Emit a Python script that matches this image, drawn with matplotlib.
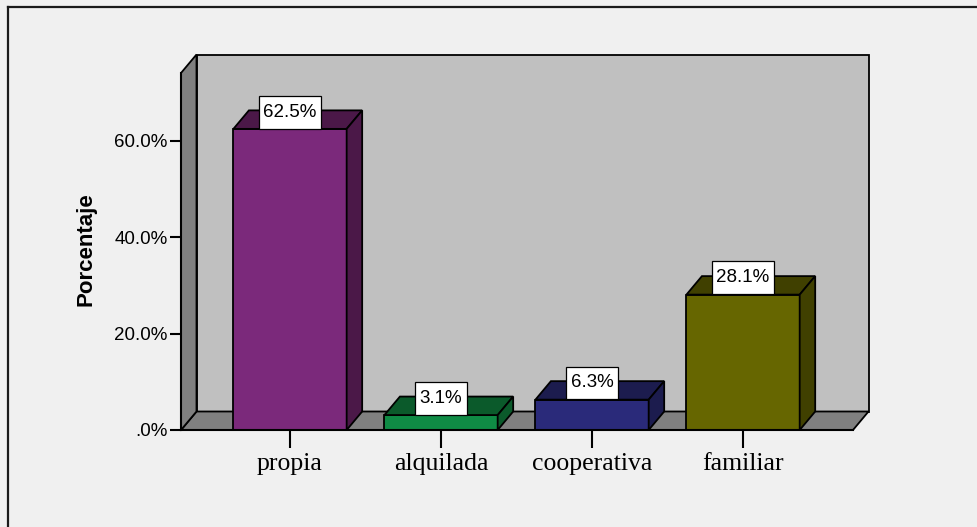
import matplotlib
matplotlib.use('Agg')
import numpy as np
from matplotlib import pyplot as plt
from matplotlib.patches import Polygon
from matplotlib.lines import Line2D
from matplotlib.ticker import FuncFormatter

categorias = ['propia', 'alquilada', 'cooperativa', 'familiar']
porcentajes = [62.5, 3.1, 6.3, 28.1]
etiquetas = ['62.5%', '3.1%', '6.3%', '28.1%']
ticks_y = [0, 20, 40, 60]

color_frente = ['#7b297b', '#0f8b45', '#2a2a7a', '#666600']
color_oscuro = ['#4b1848', '#0b5a2b', '#1c1c4e', '#404000']

W, H = 977, 527


def main():
    fig = plt.figure(figsize=(W / 100, H / 100), dpi=100, facecolor='#f0f0f0')
    ax = fig.add_axes([181 / W, (H - 430) / H, (853 - 181) / W, (430 - 73) / H])
    ax.set_facecolor('none')
    ax.set_xlim(-0.722, 3.728)
    ax.set_ylim(0, 74.1)

    # profundidad 3D en unidades de datos
    dx = 15.5 / 151
    dy = 18.5 * 74.1 / 357
    x0, x1 = ax.get_xlim()
    ymax = ax.get_ylim()[1]
    ec = 'black'
    lw = 1.3

    # paredes
    fondo = Polygon([(x0 + dx, dy), (x1 + dx, dy), (x1 + dx, ymax + dy), (x0 + dx, ymax + dy)],
                    closed=True, fc='#c0c0c0', ec=ec, lw=lw, clip_on=False, zorder=1)
    piso = Polygon([(x0, 0), (x1, 0), (x1 + dx, dy), (x0 + dx, dy)],
                   closed=True, fc='#808080', ec=ec, lw=lw, clip_on=False, zorder=1)
    pared = Polygon([(x0, 0), (x0 + dx, dy), (x0 + dx, ymax + dy), (x0, ymax)],
                    closed=True, fc='#808080', ec=ec, lw=lw, clip_on=False, zorder=1)
    for p in (fondo, piso, pared):
        ax.add_patch(p)

    # barras 3D
    w = 0.75
    xs = np.arange(len(categorias))
    for i, v in enumerate(porcentajes):
        a, b = xs[i] - w / 2, xs[i] + w / 2
        frente = Polygon([(a, 0), (b, 0), (b, v), (a, v)], closed=True,
                         fc=color_frente[i], ec=ec, lw=lw, clip_on=False, zorder=3)
        tapa = Polygon([(a, v), (b, v), (b + dx, v + dy), (a + dx, v + dy)], closed=True,
                       fc=color_oscuro[i], ec=ec, lw=lw, clip_on=False, zorder=3)
        lado = Polygon([(b, 0), (b + dx, dy), (b + dx, v + dy), (b, v)], closed=True,
                       fc=color_oscuro[i], ec=ec, lw=lw, clip_on=False, zorder=3)
        for p in (frente, tapa, lado):
            ax.add_patch(p)
        ax.annotate(etiquetas[i], (xs[i], v), xytext=(0, 12), textcoords='offset points',
                    ha='center', va='center', fontsize=13.5, family='Liberation Sans',
                    bbox=dict(boxstyle='square,pad=0.25', fc='white', ec='black', lw=0.9,
                              mutation_aspect=1.7),
                    zorder=5, annotation_clip=False)

    # ejes
    for s in ('top', 'right'):
        ax.spines[s].set_visible(False)
    for s in ('left', 'bottom'):
        ax.spines[s].set_linewidth(1.5)
        ax.spines[s].set_zorder(4)
    ax.set_yticks(ticks_y)
    ax.yaxis.set_major_formatter(FuncFormatter(lambda v, p: ('%.1f%%' % v).lstrip('0') if v == 0 else '%.1f%%' % v))
    ax.tick_params(axis='y', direction='out', length=8, width=1.5, pad=1.5, labelsize=13.5)
    for t in ax.get_yticklabels():
        t.set_family('Liberation Sans')
    ax.set_xticks(xs)
    ax.set_xticklabels(categorias, family='Liberation Serif', fontsize=18.5)
    ax.tick_params(axis='x', direction='out', length=13, width=1.5, pad=3.5)

    fig.text(86 / W, 1 - 249 / H, 'Porcentaje', rotation=90, ha='center', va='center',
             fontsize=16, fontweight='bold', family='Liberation Sans')

    # marco exterior
    fig.add_artist(Line2D([7.5 / W, 7.5 / W], [0, 1 - 7 / H], color='#1a1a1a', lw=1.6))
    fig.add_artist(Line2D([7.5 / W, 1], [1 - 7 / H, 1 - 7 / H], color='#1a1a1a', lw=1.6))

    fig.savefig('out.png', dpi=100, facecolor=fig.get_facecolor())


if __name__ == '__main__':
    main()
